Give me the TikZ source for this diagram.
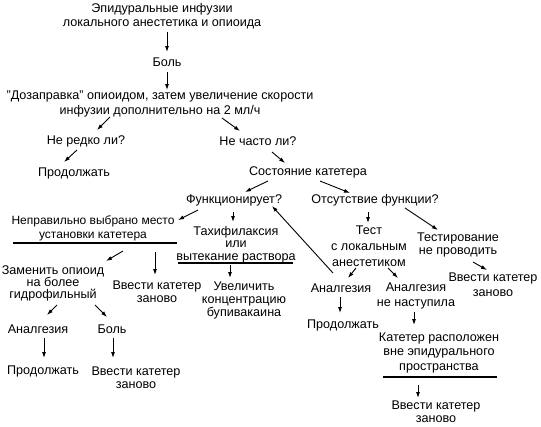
\documentclass[tikz,border=0pt]{standalone}
\usepackage{fontspec}
\setmainfont{Liberation Sans}
\usetikzlibrary{calc,arrows.meta}
\tikzset{
  txt/.style={font=\fontsize{12.6}{14}\selectfont, align=center, inner sep=0pt},
  arr/.style={-{Latex[length=6pt,width=4pt]}, line width=0.9pt},
  uline/.style={line width=1.1pt}
}
\begin{document}
\begin{tikzpicture}[x=1pt,y=-1pt]
\useasboundingbox (0,0) rectangle (541,426);
\node[txt] (epi) at (162,16.5) {Эпидуральные инфузии\\локального анестетика и опиоида};
\node[txt] (bol) at (167,62) {Боль};
\node[txt, font=\fontsize{12.6}{15}\selectfont] (doz) at (160,103.5) {"Дозаправка" опиоидом, затем увеличение скорости\\инфузии дополнительно на 2 мл/ч};
\node[txt] (nered) at (86,141) {Не редко ли?};
\node[txt] (nechasto) at (258,141) {Не часто ли?};
\node[txt] (prod1) at (74,173) {Продолжать};
\node[txt] (sost) at (308,172) {Состояние катетера};
\node[txt] (func) at (234,200) {Функционирует?};
\node[txt] (otsut) at (375,200) {Отсутствие функции?};
\node[txt, font=\fontsize{12}{14}\selectfont] (neprav) at (93,228) {Неправильно выбрано место\\установки катетера};
\node[txt, font=\fontsize{12.6}{12.5}\selectfont] (tahi) at (236,244.5) {Тахифилаксия\\или\\вытекание раствора};
\node[txt, font=\fontsize{12.6}{16}\selectfont] (test) at (369,246) {Тест\\с локальным\\анестетиком};
\node[txt, font=\fontsize{12.6}{13}\selectfont] (testir) at (458,244.5) {Тестирование\\не проводить};
\node[txt, font=\fontsize{12.6}{15}\selectfont] (vvr) at (493,284.5) {Ввести катетер\\заново};
\node[txt, font=\fontsize{12.6}{12}\selectfont] (zamen) at (53,283) {Заменить опиоид\\на более\\гидрофильный};
\node[txt, font=\fontsize{12.6}{13}\selectfont] (vvm) at (157,291.5) {Ввести катетер\\заново};
\node[txt, font=\fontsize{12.6}{13}\selectfont] (uvel) at (244,300) {Увеличить\\концентрацию\\бупивакаина};
\node[txt] (anr1) at (341,288) {Аналгезия};
\node[txt, font=\fontsize{12.6}{15}\selectfont] (anr2) at (416,295.5) {Аналгезия\\не наступила};
\node[txt] (prodr) at (343,325) {Продолжать};
\node[txt, font=\fontsize{12.6}{14.5}\selectfont] (kat) at (439,352.5) {Катетер расположен\\вне эпидурального\\пространства};
\node[txt, font=\fontsize{12.6}{13}\selectfont] (vvb) at (436,411.5) {Ввести катетер\\заново};
\node[txt] (anl) at (38,329) {Аналгезия};
\node[txt] (boll) at (112,329) {Боль};
\node[txt] (prodl) at (43,371) {Продолжать};
\node[txt, font=\fontsize{12.6}{13}\selectfont] (vvl) at (136,377.5) {Ввести катетер\\заново};
% underlines
\draw[uline] ($(neprav)+(-80,15)$) -- ($(neprav)+(84,15)$);
\draw[uline] ($(tahi)+(-58,18.5)$) -- ($(tahi)+(57,18.5)$);
\draw[uline] ($(kat)+(-56,24.5)$) -- ($(kat)+(58,24.5)$);
% arrows
\draw[arr] ($(epi)+(5,15.5)$) -- ($(bol)+(0,-10)$);
\draw[arr] ($(bol)+(0,10)$) -- ($(doz)+(7,-13.5)$);
\draw[arr] ($(doz)+(-50,13.5)$) -- ($(nered)+(11,-11)$);
\draw[arr] ($(doz)+(62,14.5)$) -- ($(nechasto)+(-18,-10)$);
\draw[arr] ($(nered)+(-9,9)$) -- ($(prod1)+(-10,-11)$);
\draw[arr] ($(nechasto)+(14,11)$) -- ($(sost)+(-23,-9)$);
\draw[arr] ($(sost)+(-40,9)$) -- ($(func)+(11,-8)$);
\draw[arr] ($(sost)+(12,9)$) -- ($(otsut)+(-25,-7)$);
\draw[arr] ($(func)+(-36,10)$) -- ($(neprav)+(85,-8)$);
\draw[arr] ($(func)+(-1,12)$) -- ($(tahi)+(-3,-22.5)$);
\draw[arr] ($(otsut)+(-7,12)$) -- ($(test)+(-1,-23)$);
\draw[arr] ($(otsut)+(30,8)$) -- ($(testir)+(-20,-14.5)$);
\draw[arr] ($(testir)+(15,17.5)$) -- ($(vvr)+(-6,-14.5)$);
\draw[arr] ($(test)+(-13,22)$) -- ($(anr1)+(7,-10)$);
\draw[arr] ($(test)+(19,22)$) -- ($(anr2)+(-18,-17.5)$);
\draw[arr] ($(anr1)+(-8,-15)$) -- ($(func)+(38,6)$);
\draw[arr] ($(anr1)+(-1,9)$) -- ($(prodr)+(-3,-12)$);
\draw[arr] ($(anr2)+(-2,16.5)$) -- ($(kat)+(-25,-27.5)$);
\draw[arr] ($(kat)+(-21,32.5)$) -- ($(vvb)+(-18,-13.5)$);
\draw[arr] ($(neprav)+(30,23)$) -- ($(zamen)+(53,-22)$);
\draw[arr] ($(neprav)+(62,24)$) -- ($(vvm)+(-2,-16.5)$);
\draw[arr] ($(tahi)+(-6,20.5)$) -- ($(uvel)+(-14,-22)$);
\draw[arr] ($(zamen)+(4,22)$) -- ($(anl)+(9,-14)$);
\draw[arr] ($(zamen)+(42,22)$) -- ($(boll)+(-5,-12)$);
\draw[arr] ($(anl)+(6,9)$) -- ($(prodl)+(1,-13)$);
\draw[arr] ($(boll)+(1,9)$) -- ($(vvl)+(-23,-19.5)$);
\end{tikzpicture}
\end{document}
